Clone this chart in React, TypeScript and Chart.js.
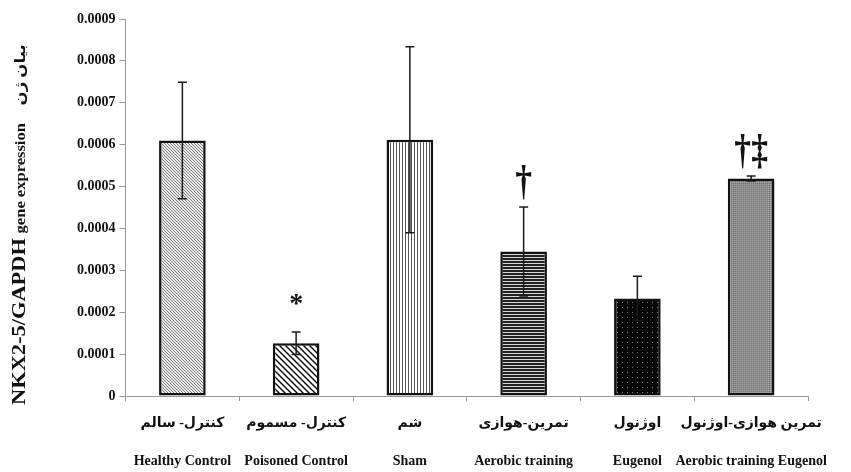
import { useEffect, useRef } from 'react';
import { Chart, registerables } from 'chart.js';

Chart.register(...registerables);

const persianLabels = ['کنترل- سالم', 'کنترل- مسموم', 'شم', 'تمرین-هوازی', 'اوژنول', 'تمرین هوازی-اوژنول'];
const englishLabels = ['Healthy Control', 'Poisoned Control', 'Sham', 'Aerobic training', 'Eugenol', 'Aerobic training Eugenol'];
const meanValues = [0.00061, 0.000126, 0.000612, 0.000345, 0.000233, 0.000519];
const errorValues = [0.000139, 0.000027, 0.000222, 0.000106, 0.000053, 0.000006];
const significanceMarks = ['', '*', '', '†', '', '†‡'];
const yTickLabels = ['0', '0.0001', '0.0002', '0.0003', '0.0004', '0.0005', '0.0006', '0.0007', '0.0008', '0.0009'];
const yAxisTitleParts = ['NKX2-5/GAPDH', 'gene expression', 'بیان ژن'];

const SERIF = '"Liberation Serif", "Times New Roman", "DejaVu Sans", serif';

function makePattern(w: number, h: number, draw: (g: CanvasRenderingContext2D) => void) {
  const c = document.createElement('canvas');
  c.width = w;
  c.height = h;
  const g = c.getContext('2d') as CanvasRenderingContext2D;
  draw(g);
  return g.createPattern(c, 'repeat') as CanvasPattern;
}

function buildPatterns() {
  const healthy = makePattern(3, 3, (g) => {
    g.fillStyle = '#ececec';
    g.fillRect(0, 0, 3, 3);
    g.fillStyle = '#7a7a7a';
    for (let i = 0; i < 3; i++) g.fillRect(i, i, 1, 1);
  });
  const poisoned = makePattern(6, 6, (g) => {
    g.fillStyle = '#ffffff';
    g.fillRect(0, 0, 6, 6);
    g.strokeStyle = '#111';
    g.lineWidth = 1.5;
    g.beginPath();
    g.moveTo(-1, -1); g.lineTo(7, 7);
    g.moveTo(-1, 5); g.lineTo(1, 7);
    g.moveTo(5, -1); g.lineTo(7, 1);
    g.stroke();
  });
  const sham = makePattern(3, 1, (g) => {
    g.fillStyle = '#ffffff';
    g.fillRect(0, 0, 3, 1);
    g.fillStyle = '#555';
    g.fillRect(0, 0, 1, 1);
  });
  const aerobic = makePattern(1, 3, (g) => {
    g.fillStyle = '#d8d8d8';
    g.fillRect(0, 0, 1, 3);
    g.fillStyle = '#222';
    g.fillRect(0, 0, 1, 2);
  });
  const eugenol = makePattern(5, 5, (g) => {
    g.fillStyle = '#060606';
    g.fillRect(0, 0, 5, 5);
    g.fillStyle = '#7a7a7a';
    g.fillRect(2, 2, 1, 1);
  });
  const combined = makePattern(2, 2, (g) => {
    g.fillStyle = '#8c8c8c';
    g.fillRect(0, 0, 2, 2);
    g.fillStyle = '#a4a4a4';
    g.fillRect(0, 0, 1, 1);
    g.fillStyle = '#747474';
    g.fillRect(1, 1, 1, 1);
  });
  return [healthy, poisoned, sham, aerobic, eugenol, combined];
}

const errorBarPlugin = {
  id: 'errorBars',
  afterDatasetsDraw(chart: any) {
    const { ctx, scales } = chart;
    const y = scales.y;
    const meta = chart.getDatasetMeta(0);
    ctx.save();
    meta.data.forEach((bar: any, i: number) => {
      const x = bar.x;
      const top = y.getPixelForValue(meanValues[i] + errorValues[i]);
      const bot = y.getPixelForValue(meanValues[i] - errorValues[i]);
      ctx.strokeStyle = '#1a1a1a';
      ctx.lineWidth = 1.5;
      ctx.beginPath();
      ctx.moveTo(x, top); ctx.lineTo(x, bot);
      ctx.moveTo(x - 4.5, top); ctx.lineTo(x + 4.5, top);
      ctx.moveTo(x - 4.5, bot); ctx.lineTo(x + 4.5, bot);
      ctx.stroke();
      const mark = significanceMarks[i];
      if (mark) {
        const isStar = mark === '*';
        ctx.font = isStar ? 'bold 28px ' + SERIF : 'bold 42px ' + SERIF;
        ctx.fillStyle = '#111';
        ctx.textAlign = 'center';
        ctx.textBaseline = 'alphabetic';
        const m = ctx.measureText(mark);
        const gap = isStar ? 27 : 7;
        ctx.save();
        ctx.translate(x, top - gap - m.actualBoundingBoxDescent);
        if (!isStar) ctx.scale(0.8, 1);
        ctx.fillText(mark, 0, 0);
        ctx.restore();
      }
    });
    ctx.restore();
  },
};

const yTitlePlugin = {
  id: 'yTitle',
  afterDraw(chart: any) {
    const { ctx, chartArea } = chart;
    ctx.save();
    ctx.translate(25, chartArea.bottom + 9);
    ctx.rotate(-Math.PI / 2);
    ctx.scale(1.18, 1);
    ctx.fillStyle = '#111';
    ctx.textAlign = 'left';
    ctx.textBaseline = 'alphabetic';
    const fonts = ['bold 19px ' + SERIF, 'bold 14px ' + SERIF, 'bold 14px ' + SERIF];
    const gaps = [4, 15, 0];
    let x = 0;
    yAxisTitleParts.forEach((t, i) => {
      ctx.font = fonts[i];
      ctx.fillText(t, x, 0);
      x += ctx.measureText(t).width + gaps[i];
    });
    ctx.restore();
  },
};

export default function App() {
  const ref = useRef<HTMLCanvasElement | null>(null);

  useEffect(() => {
    if (!ref.current) return;
    const patterns = buildPatterns();
    const chart = new Chart(ref.current, {
      type: 'bar',
      data: {
        labels: persianLabels.map((p, i) => [p, englishLabels[i]]),
        datasets: [
          {
            data: meanValues,
            backgroundColor: patterns as any,
            borderColor: '#111',
            borderWidth: 2.5,
            borderSkipped: false,
            barPercentage: 0.41,
            categoryPercentage: 1,
          },
        ],
      },
      options: {
        animation: false,
        responsive: true,
        maintainAspectRatio: false,
        layout: { padding: { left: 73, top: 19, right: 43, bottom: 0 } },
        plugins: { legend: { display: false }, tooltip: { enabled: false } },
        scales: {
          x: {
            afterFit: (scale: any) => {
              scale.height = 76;
            },
            grid: { display: true, drawOnChartArea: false, drawTicks: true, tickLength: 5, color: '#999', offset: true },
            border: { display: true, color: '#999', width: 1 },
            ticks: {
              color: '#111',
              padding: 3,
              maxRotation: 0,
              autoSkip: false,
              font: { family: SERIF, size: 14, weight: 'bold', lineHeight: '38px' as any },
            },
          },
          y: {
            min: 0,
            max: 0.0009,
            grid: { display: true, drawOnChartArea: false, drawTicks: true, tickLength: 6, color: '#999' },
            border: { display: true, color: '#999', width: 1 },
            ticks: {
              stepSize: 0.0001,
              color: '#111',
              padding: 4,
              font: { family: SERIF, size: 14, weight: 'bold' },
              callback: (_v: any, index: number) => yTickLabels[index],
            },
          },
        },
      },
      plugins: [errorBarPlugin, yTitlePlugin],
    });
    return () => chart.destroy();
  }, []);

  return (
    <div style={{ position: 'fixed', left: 0, top: 0, width: 851, height: 472, background: '#fff' }}>
      <canvas ref={ref} />
    </div>
  );
}
